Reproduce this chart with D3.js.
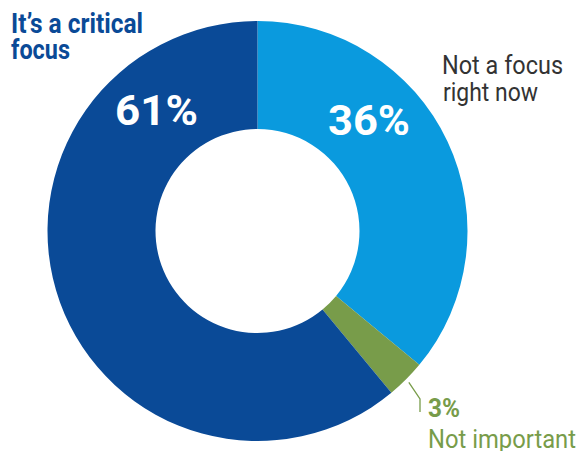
<!DOCTYPE html>
<html>
<head>
<meta charset="utf-8">
<script src="https://cdn.jsdelivr.net/npm/d3@7"></script>
<style>
  html, body { margin: 0; padding: 0; background: #fff; }
  svg { display: block; }
  text { font-family: Roboto, "Noto Sans", sans-serif; }
</style>
</head>
<body>
<svg id="chart" width="579" height="451"></svg>
<script>
// Survey answers, clockwise from 12 o'clock
const categories = ["Not a focus right now", "Not important", "It\u2019s a critical focus"];
const values = [36, 3, 61];
const colors = ["#0a9ade", "#789c4a", "#0a4a97"];

const svg = d3.select("#chart");
const cx = 257.5, cy = 231, outerR = 210, innerR = 102;

const pie = d3.pie().sort(null).value(d => d.value);
const arc = d3.arc().innerRadius(innerR).outerRadius(outerR);
const data = categories.map((c, i) => ({ category: c, value: values[i], color: colors[i] }));
const arcs = pie(data);

const g = svg.append("g").attr("transform", `translate(${cx},${cy})`);
g.selectAll("path.slice")
  .data(arcs)
  .join("path")
  .attr("class", "slice")
  .attr("d", arc)
  .attr("fill", d => d.data.color);

// Value labels inside the two big slices
const inner = [
  { i: 2, x: 115, y: 125, w: 83 },
  { i: 0, x: 328, y: 135, w: 82 }
];
svg.selectAll("text.pct")
  .data(inner)
  .join("text")
  .attr("class", "pct")
  .attr("x", d => d.x)
  .attr("y", d => d.y)
  .attr("fill", "#fff")
  .attr("font-size", 42)
  .attr("font-weight", 700)
  .attr("textLength", d => d.w)
  .attr("lengthAdjust", "spacingAndGlyphs")
  .text(d => values[d.i] + "%");

function label(txt, x, y, w, size, weight, fill) {
  svg.append("text")
    .attr("x", x).attr("y", y)
    .attr("font-size", size)
    .attr("font-weight", weight)
    .attr("fill", fill)
    .attr("textLength", w)
    .attr("lengthAdjust", "spacingAndGlyphs")
    .text(txt);
}

// Category captions
label("It\u2019s a critical", 11, 33, 132, 28, 700, colors[2]);
label("focus", 11, 59, 59, 28, 700, colors[2]);
label("Not a focus", 442, 74, 121, 25, 400, "#333333");
label("right now", 443, 101, 95, 25, 400, "#333333");

// Small slice: leader line, value and caption
const small = arcs[1];
const mid = (small.startAngle + small.endAngle) / 2;
const p0 = [cx + Math.sin(mid) * (outerR + 4), cy - Math.cos(mid) * (outerR + 4)];
svg.append("path")
  .attr("d", d3.line()([p0, [420, 399], [420, 412]]))
  .attr("fill", "none")
  .attr("stroke", colors[1])
  .attr("stroke-width", 1.3);
label(values[1] + "%", 428, 417, 32, 26, 700, colors[1]);
label("Not important", 428, 448, 148, 26, 400, colors[1]);
</script>
</body>
</html>
